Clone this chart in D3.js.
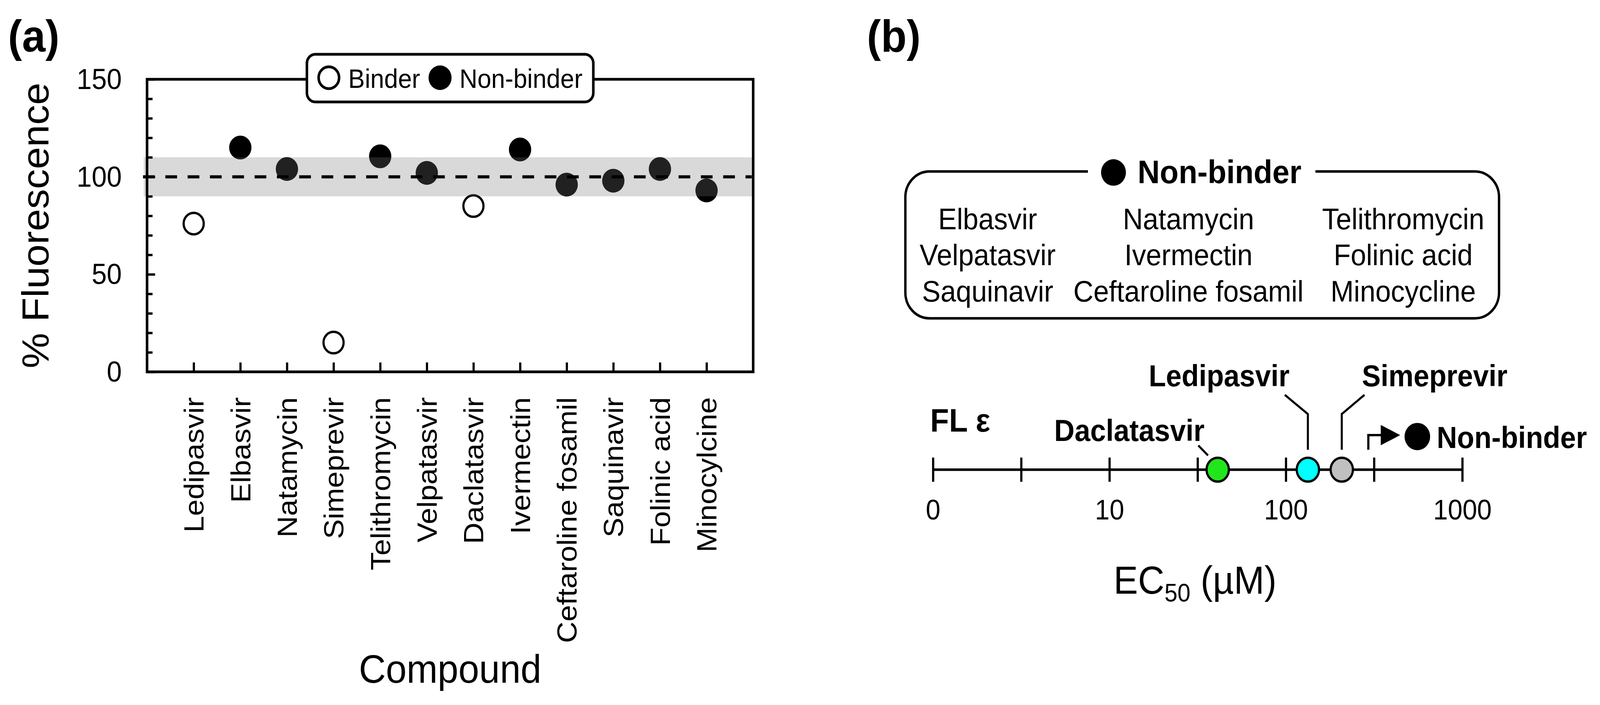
<!DOCTYPE html>
<html>
<head>
<meta charset="utf-8">
<script src="https://cdn.jsdelivr.net/npm/d3@7"></script>
<style>
  html, body { margin: 0; padding: 0; background: #fff; overflow: hidden; }
  svg { display: block; width: 100vw; height: 100vh; }
  text { font-family: "Liberation Sans", Arial, sans-serif; fill: #000; }
</style>
</head>
<body>
<svg></svg>
<script>
// ---- panel (a) data ----
const compounds = ["Ledipasvir", "Elbasvir", "Natamycin", "Simeprevir", "Telithromycin", "Velpatasvir",
    "Daclatasvir", "Ivermectin", "Ceftaroline fosamil", "Saquinavir", "Folinic acid", "Minocylcine"];
const fluorescence = [76, 115, 104, 15, 110.5, 102, 85, 114, 96, 98, 104, 93];
const isBinder = [true, false, false, true, false, false, true, false, false, false, false, false];
const yTicks = [0, 50, 100, 150];
const yMinorTicks = [10, 20, 30, 40, 60, 70, 80, 90, 110, 120, 130, 140];
const bandRange = [90, 110];
const refLevel = 100;

// ---- panel (b) data ----
const ecNames = ["Daclatasvir", "Ledipasvir", "Simeprevir"];
const ec50 = [41, 133, 207];
const ecColors = ["#22e61c", "#00ffff", "#c0c0c0"];
const ecTicks = [1, 3.16, 10, 31.6, 100, 316, 1000];
const ecTickLabels = { 1: "0", 10: "10", 100: "100", 1000: "1000" };
const nonBinderCols = [
    ["Elbasvir", "Velpatasvir", "Saquinavir"],
    ["Natamycin", "Ivermectin", "Ceftaroline fosamil"],
    ["Telithromycin", "Folinic acid", "Minocycline"]
];

const width = 4374;
const height = 1805;
const font = '"Liberation Sans", Arial, sans-serif';

// fixed drawing space, scaled to whatever the window really is
const svg = d3.select("svg")
    .attr("viewBox", `0 0 ${width} ${height}`)
    .attr("preserveAspectRatio", "none");

// ================= panel (a) =================
const pa = { left: 402, right: 2059, top: 203, bottom: 952 };

const x = d3.scalePoint()
    .domain(compounds)
    .range([pa.left, pa.right])
    .padding(1);

const y = d3.scaleLinear()
    .domain([0, 150])
    .range([pa.bottom, pa.top]);

const ga = svg.append("g");

const pointsA = compounds.map((c, i) => ({ name: c, value: fluorescence[i], binder: isBinder[i] }));

ga.selectAll("circle.pt")
    .data(pointsA)
    .join("circle")
    .attr("class", "pt")
    .attr("cx", d => x(d.name))
    .attr("cy", d => y(d.value))
    .attr("r", d => d.binder ? 27.5 : 30.5)
    .attr("fill", d => d.binder ? "#fff" : "#000")
    .attr("stroke", d => d.binder ? "#000" : "none")
    .attr("stroke-width", 6);

// translucent band drawn over the points
ga.append("rect")
    .attr("x", pa.left - 9)
    .attr("width", pa.right - pa.left + 12)
    .attr("y", y(bandRange[1]))
    .attr("height", y(bandRange[0]) - y(bandRange[1]))
    .attr("fill", "rgb(120,120,120)")
    .attr("opacity", 0.28);

ga.append("line")
    .attr("x1", pa.left - 11)
    .attr("x2", pa.right - 4)
    .attr("y1", y(refLevel))
    .attr("y2", y(refLevel))
    .attr("stroke", "#000")
    .attr("stroke-width", 8)
    .attr("stroke-dasharray", "32,29");

// axes
function styleAxis(g, size) {
    g.attr("font-family", font);
    g.select(".domain").remove();
    g.selectAll(".tick line").attr("stroke", "#000").attr("stroke-width", 6);
    g.selectAll(".tick text").attr("font-size", size).attr("fill", "#000");
}

ga.append("g")
    .attr("transform", `translate(${pa.left},0)`)
    .call(d3.axisLeft(y).tickValues(yMinorTicks).tickSize(-15).tickSizeOuter(0).tickFormat(""))
    .call(g => styleAxis(g, 0));

ga.append("g")
    .attr("transform", `translate(${pa.left},0)`)
    .call(d3.axisLeft(y).tickValues(yTicks).tickSize(-22).tickSizeOuter(0).tickPadding(69))
    .call(g => styleAxis(g, 74))
    .call(g => g.selectAll(".tick text").attr("dy", "0.33em"));

ga.append("g")
    .attr("transform", `translate(0,${pa.bottom})`)
    .call(d3.axisBottom(x).tickSize(-24).tickSizeOuter(0))
    .call(g => styleAxis(g, 76))
    .call(g => g.selectAll(".tick text")
        .attr("transform", "rotate(-90)")
        .attr("text-anchor", "end")
        .attr("x", -65)
        .attr("y", 0)
        .attr("dy", "0.35em"));

// frame
ga.append("rect")
    .attr("x", pa.left)
    .attr("y", pa.top)
    .attr("width", pa.right - pa.left)
    .attr("height", pa.bottom - pa.top)
    .attr("fill", "none")
    .attr("stroke", "#000")
    .attr("stroke-width", 7);

ga.append("text")
    .attr("transform", `translate(132,${(pa.top + pa.bottom) / 2}) rotate(-90)`)
    .attr("text-anchor", "middle")
    .attr("font-size", 102)
    .text("% Fluorescence");

ga.append("text")
    .attr("x", (pa.left + pa.right) / 2)
    .attr("y", 1748)
    .attr("text-anchor", "middle")
    .attr("font-size", 102)
    .text("Compound");

// legend on the top edge
const lg = ga.append("g");
lg.append("rect")
    .attr("x", 839).attr("y", 139)
    .attr("width", 783).attr("height", 122)
    .attr("rx", 23)
    .attr("fill", "#fff")
    .attr("stroke", "#000")
    .attr("stroke-width", 7);
lg.append("circle").attr("cx", 899).attr("cy", 199).attr("r", 28)
    .attr("fill", "#fff").attr("stroke", "#000").attr("stroke-width", 7);
lg.append("text").attr("x", 952).attr("y", 225).attr("font-size", 68).text("Binder");
lg.append("circle").attr("cx", 1203).attr("cy", 199).attr("r", 31.5).attr("fill", "#000");
lg.append("text").attr("x", 1256).attr("y", 225).attr("font-size", 68).text("Non-binder");

svg.append("text")
    .attr("x", 22).attr("y", 132)
    .attr("font-size", 115).attr("font-weight", "bold")
    .text("(a)");

// ================= panel (b) =================
const gb = svg.append("g");

svg.append("text")
    .attr("x", 2370).attr("y", 132)
    .attr("font-size", 115).attr("font-weight", "bold")
    .text("(b)");

// non-binder box
const box = { left: 2475, right: 4098, top: 439, bottom: 815 };
gb.append("rect")
    .attr("x", box.left).attr("y", box.top)
    .attr("width", box.right - box.left).attr("height", box.bottom - box.top)
    .attr("rx", 66)
    .attr("fill", "none")
    .attr("stroke", "#000")
    .attr("stroke-width", 6.5);
gb.append("rect")
    .attr("x", 2974).attr("y", box.top - 12)
    .attr("width", 3596 - 2974).attr("height", 24)
    .attr("fill", "#fff");
gb.append("circle").attr("cx", 3044).attr("cy", 441.6).attr("r", 34).attr("fill", "#000");
gb.append("text")
    .attr("x", 3110).attr("y", 469)
    .attr("font-size", 84).attr("font-weight", "bold")
    .text("Non-binder");

const colX = [2700, 3249, 3836];
const rowY = [587, 679, 772];
nonBinderCols.forEach((col, ci) => {
    gb.selectAll(null)
        .data(col)
        .join("text")
        .attr("x", colX[ci])
        .attr("y", (d, ri) => rowY[ri])
        .attr("text-anchor", "middle")
        .attr("font-size", 76)
        .text(d => d);
});

// EC50 axis
const xb = d3.scaleLog().domain([1, 1000]).range([2551, 3998]);
const axisY = 1202.5;

gb.append("line")
    .attr("x1", xb(1)).attr("x2", xb(1000))
    .attr("y1", axisY).attr("y2", axisY)
    .attr("stroke", "#000").attr("stroke-width", 6.5);

gb.selectAll("line.ecTick")
    .data(ecTicks)
    .join("line")
    .attr("class", "ecTick")
    .attr("x1", d => xb(d)).attr("x2", d => xb(d))
    .attr("y1", axisY - 31).attr("y2", axisY + 31)
    .attr("stroke", "#000").attr("stroke-width", 6);

gb.selectAll("text.ecTickLab")
    .data(ecTicks.filter(d => ecTickLabels[d] !== undefined))
    .join("text")
    .attr("class", "ecTickLab")
    .attr("x", d => xb(d))
    .attr("y", 1330)
    .attr("text-anchor", "middle")
    .attr("font-size", 72)
    .text(d => ecTickLabels[d]);

gb.append("text")
    .attr("x", 2543).attr("y", 1105)
    .attr("font-size", 84).attr("font-weight", "bold")
    .text("FL ε");

// leader lines and labels, placed relative to each circle
const labelLayout = {
    Daclatasvir: { anchor: "end", dx: -36, y: 1129, path: cx => `M${cx - 53},1140.6L${cx - 26.5},1166` },
    Ledipasvir: { anchor: "middle", dx: -242.5, y: 989, path: cx => `M${cx - 63},1011L${cx},1060L${cx},1151.5` },
    Simeprevir: { anchor: "middle", dx: 254, y: 989, path: cx => `M${cx + 62},1011L${cx},1060L${cx},1151.5` }
};

const pointsB = ecNames.map((n, i) => ({ name: n, value: ec50[i], color: ecColors[i] }));

gb.selectAll("path.leader")
    .data(pointsB)
    .join("path")
    .attr("class", "leader")
    .attr("d", d => labelLayout[d.name].path(xb(d.value)))
    .attr("fill", "none")
    .attr("stroke", "#000")
    .attr("stroke-width", 5.5);

gb.selectAll("text.ecLab")
    .data(pointsB)
    .join("text")
    .attr("class", "ecLab")
    .attr("x", d => xb(d.value) + labelLayout[d.name].dx)
    .attr("y", d => labelLayout[d.name].y)
    .attr("text-anchor", d => labelLayout[d.name].anchor)
    .attr("font-size", 77)
    .attr("font-weight", "bold")
    .text(d => d.name);

gb.selectAll("circle.ec")
    .data(pointsB)
    .join("circle")
    .attr("class", "ec")
    .attr("cx", d => xb(d.value))
    .attr("cy", axisY)
    .attr("r", 30.5)
    .attr("fill", d => d.color)
    .attr("stroke", "#000")
    .attr("stroke-width", 6);

// "> non-binder" marker past the last half-decade tick
const ax0 = xb(316) - 16;
gb.append("path")
    .attr("d", `M${ax0},1151.5V1114H${ax0 + 40}`)
    .attr("fill", "none")
    .attr("stroke", "#000")
    .attr("stroke-width", 6);
gb.append("path")
    .attr("d", `M${ax0 + 34},1088L${ax0 + 87},1114L${ax0 + 34},1140Z`)
    .attr("fill", "#000");
gb.append("circle").attr("cx", ax0 + 134).attr("cy", 1117.7).attr("r", 35).attr("fill", "#000");
gb.append("text")
    .attr("x", ax0 + 187).attr("y", 1147)
    .attr("font-size", 77).attr("font-weight", "bold")
    .text("Non-binder");

// EC50 axis title
const ecTitle = gb.append("text")
    .attr("x", 3267).attr("y", 1520)
    .attr("text-anchor", "middle")
    .attr("font-size", 100);
ecTitle.append("tspan").text("EC");
ecTitle.append("tspan").attr("font-size", 64).attr("dy", 20).text("50");
ecTitle.append("tspan").attr("dy", -20).text(" (µM)");
</script>
</body>
</html>
